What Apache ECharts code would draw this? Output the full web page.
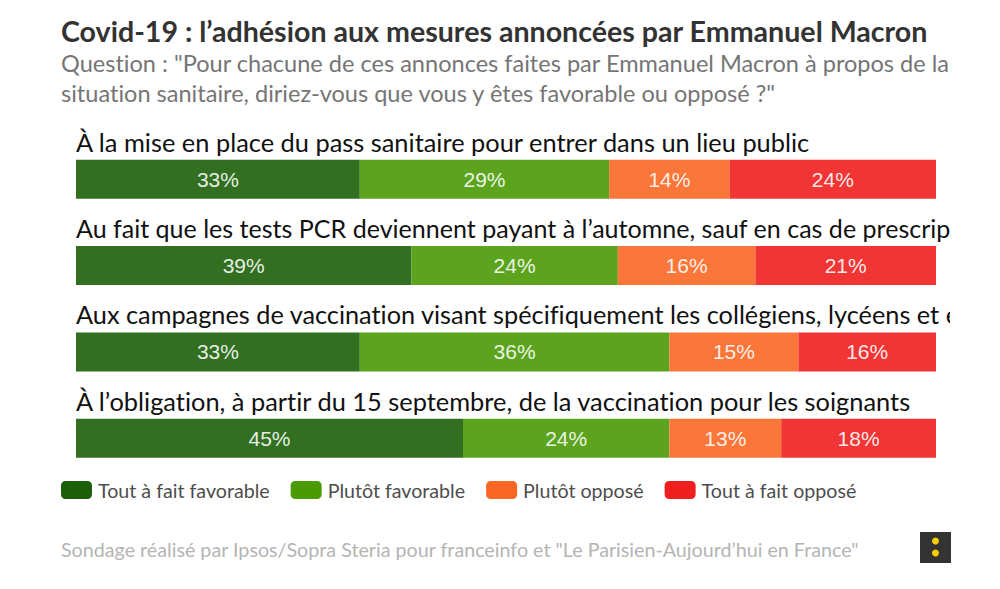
<!DOCTYPE html>
<html><head><meta charset="utf-8">
<style>html,body{margin:0;padding:0;background:#fff}#c{width:1000px;height:589px}svg text{font-variant-ligatures:none}</style>
<script src="https://cdn.jsdelivr.net/npm/echarts@6/dist/echarts.min.js"></script>
</head><body><div id="c"></div>
<script>
const categories = [
  "À la mise en place du pass sanitaire pour entrer dans un lieu public",
  "Au fait que les tests PCR deviennent payant à l’automne, sauf en cas de prescription médicale",
  "Aux campagnes de vaccination visant spécifiquement les collégiens, lycéens et étudiants",
  "À l’obligation, à partir du 15 septembre, de la vaccination pour les soignants"
];
const seriesNames = ["Tout à fait favorable","Plutôt favorable","Plutôt opposé","Tout à fait opposé"];
const toutFavorable = [33,39,33,45];
const plutotFavorable = [29,24,36,24];
const plutotOppose = [14,16,15,13];
const toutOppose = [24,21,16,18];
const colors = ["#1c5f09","#4a9a05","#f96724","#f01f1f"];
const values = [toutFavorable,plutotFavorable,plutotOppose,toutOppose];
const labelSizes = [25.4,25.05,25.3,25.4];
const FONT = "Lato";
const chart = echarts.init(document.getElementById('c'),null,{renderer:'svg'});
chart.setOption({
  animation:false,
  backgroundColor:'#fff',
  title:[
    {text:"Covid-19 : l’adhésion aux mesures annoncées par Emmanuel Macron",left:61,top:16,padding:0,textStyle:{fontFamily:FONT,fontWeight:'bold',fontSize:28.6,color:'#333'}},
    {text:"Question : \"Pour chacune de ces annonces faites par Emmanuel Macron à propos de la\nsituation sanitaire, diriez-vous que vous y êtes favorable ou opposé ?\"",left:61,top:48,padding:0,textStyle:{fontFamily:FONT,fontWeight:'normal',fontSize:23.55,lineHeight:30,color:'#757575'}},
    {text:"Sondage réalisé par Ipsos/Sopra Steria pour franceinfo et \"Le Parisien-Aujourd’hui en France\"",left:61,top:539,padding:0,textStyle:{fontFamily:FONT,fontWeight:'normal',fontSize:19.7,color:'#b4b4b4'}}
  ],
  legend:{left:61,top:480,padding:0,itemWidth:31,itemHeight:18,itemGap:21,icon:'roundRect',
    itemStyle:{opacity:1},
    textStyle:{fontFamily:FONT,fontSize:19.65,color:'#4d4d4d',padding:[0,0,0,1]},
    data:seriesNames},
  grid:{left:76,right:64,top:136,height:345.5,outerBoundsMode:'none'},
  xAxis:{type:'value',min:0,max:100,show:false},
  yAxis:{type:'category',inverse:true,
    data:categories.map((c,i)=>({value:c,textStyle:{fontSize:labelSizes[i],align:'left',verticalAlign:'bottom',padding:[0,0,25,0],fontFamily:FONT,color:'#111'}})),
    axisLine:{show:false},axisTick:{show:false},splitLine:{show:false},
    axisLabel:{inside:true,margin:0,align:'left',verticalAlign:'bottom',padding:[0,0,25,0],fontFamily:FONT,fontSize:25.4,color:'#111'},
    z:10},
  series:seriesNames.map((n,i)=>({
    name:n,type:'bar',stack:'t',barWidth:39,data:values[i],
    itemStyle:{color:colors[i],opacity:0.9},
    label:{show:true,position:'inside',formatter:'{c}%',color:'#fff',fontFamily:'Liberation Sans',fontSize:21}
  })),
  graphic:[
    {type:'rect',z:100,shape:{x:950,y:125,width:50,height:340},style:{fill:'#fff'}},
    {type:'rect',z:101,shape:{x:920,y:532,width:31,height:31},style:{fill:'#333'}},
    {type:'circle',z:102,shape:{cx:935.5,cy:541,r:3.5},style:{fill:'#fc0'}},
    {type:'circle',z:102,shape:{cx:935.5,cy:553,r:3.5},style:{fill:'#fc0'}}
  ]
});
</script></body></html>
